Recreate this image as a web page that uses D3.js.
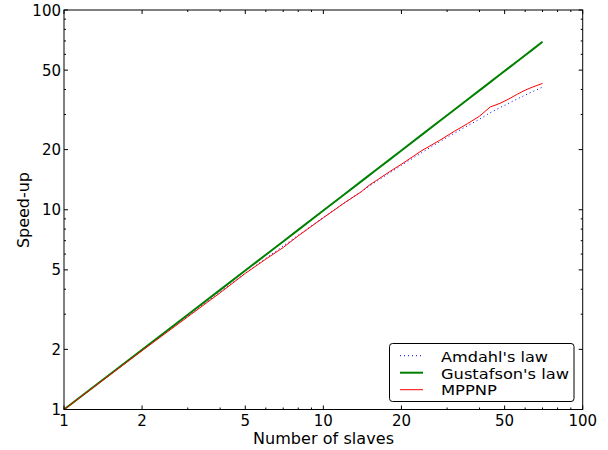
<!DOCTYPE html>
<html><head><meta charset="utf-8">
<script src="https://cdn.jsdelivr.net/npm/d3@7"></script>
<style>body{margin:0;background:#fff}svg{display:block}text{font-family:"DejaVu Sans",sans-serif}</style>
</head><body><svg id="c" width="608" height="450"></svg>
<script>
const slaves = [1,2,3,4,5,6,7,8,10,12,14,15,16,18,20,24,28,32,36,40,44,48,52,56,60,64,70];
const amdahl = [1,1.98,2.94,3.88,4.81,5.71,6.59,7.45,9.15,10.78,12.34,13.1,13.84,15.29,16.68,19.35,21.84,24.16,26.35,28.4,30.6,32.45,34.2,35.9,37.5,39.0,41.1];
const gustafson = [1,1.99,2.98,3.97,4.96,5.95,6.94,7.93,9.91,11.89,13.87,14.86,15.85,17.83,19.81,23.77,27.72,31.68,35.64,39.6,43.56,47.52,51.48,55.44,59.4,63.36,69.3];
const mppnp = [1,1.97,2.91,3.84,4.8,5.66,6.47,7.4,9.12,10.78,12.3,13.25,14.0,15.5,16.9,19.8,22.2,24.7,27.0,29.4,32.7,34.1,35.9,37.9,39.7,41.1,42.9];
const xTicks = [1,2,5,10,20,50,100];
const yTicks = [1,2,5,10,20,50,100];
const seriesNames = ["Amdahl's law","Gustafson's law","MPPNP"];
const legendWidths = [107,128,56];

const svg = d3.select("#c");
const L=64, R=582.7, T=10, B=409.5;
const x = d3.scaleLog().domain([1,100]).range([L,R]);
const y = d3.scaleLog().domain([1,100]).range([B,T]);
const minors = [];
for (const d of [1,10]) for (let k=2;k<=9;k++) minors.push(d*k);
const minorOnly = minors.filter(v=>!xTicks.includes(v));

const line = (ys)=>d3.line().x((d,i)=>x(slaves[i])).y((d,i)=>y(ys[i]))(ys);
const g = svg.append("g");
g.append("path").attr("d",line(amdahl)).attr("fill","none").attr("stroke","#0000ff").attr("stroke-width",1).attr("stroke-dasharray","1,3");
g.append("path").attr("d",line(gustafson)).attr("fill","none").attr("stroke","#008000").attr("stroke-width",2);
g.append("path").attr("d",line(mppnp)).attr("fill","none").attr("stroke","#ff0000").attr("stroke-width",1);

svg.append("rect").attr("x",L).attr("y",T).attr("width",R-L).attr("height",B-T).attr("fill","none").attr("stroke","#000").attr("stroke-width",1);

function ticks(vals,len){
  vals.forEach(v=>{
    const xx=x(v), yy=y(v);
    svg.append("line").attr("x1",xx).attr("x2",xx).attr("y1",B).attr("y2",B-len).attr("stroke","#000");
    svg.append("line").attr("x1",xx).attr("x2",xx).attr("y1",T).attr("y2",T+len).attr("stroke","#000");
    svg.append("line").attr("y1",yy).attr("y2",yy).attr("x1",L).attr("x2",L+len).attr("stroke","#000");
    svg.append("line").attr("y1",yy).attr("y2",yy).attr("x1",R).attr("x2",R-len).attr("stroke","#000");
  });
}
ticks(xTicks,4);
ticks(minorOnly,2);

xTicks.forEach(v=>svg.append("text").attr("x",x(v)).attr("y",B+16).attr("text-anchor","middle").attr("font-size",15).text(v));
yTicks.forEach(v=>svg.append("text").attr("x",L-3).attr("y",y(v)+5.5).attr("text-anchor","end").attr("font-size",15).text(v));

svg.append("text").attr("x",253).attr("y",444).attr("font-size",16).attr("textLength",141).attr("lengthAdjust","spacing").text("Number of slaves");
svg.append("text").attr("transform",`translate(29,248) rotate(-90)`).attr("font-size",16).attr("textLength",76).attr("lengthAdjust","spacing").text("Speed-up");

const lg = svg.append("g");
lg.append("rect").attr("x",389.5).attr("y",343.5).attr("width",184.5).attr("height",58).attr("rx",3).attr("fill","#fff").attr("stroke","#000").attr("stroke-width",1);
const styles=[{c:"#0000ff",w:1,d:"1,3"},{c:"#008000",w:2,d:null},{c:"#ff0000",w:1,d:null}];
seriesNames.forEach((n,i)=>{
  const yy=355.7+i*17;
  lg.append("line").attr("x1",400).attr("x2",423).attr("y1",yy).attr("y2",yy).attr("stroke",styles[i].c).attr("stroke-width",styles[i].w).attr("stroke-dasharray",styles[i].d);
  lg.append("text").attr("x",441).attr("y",362+i*16.5).attr("font-size",14).attr("textLength",legendWidths[i]).attr("lengthAdjust","spacingAndGlyphs").text(n);
});
</script></body></html>
